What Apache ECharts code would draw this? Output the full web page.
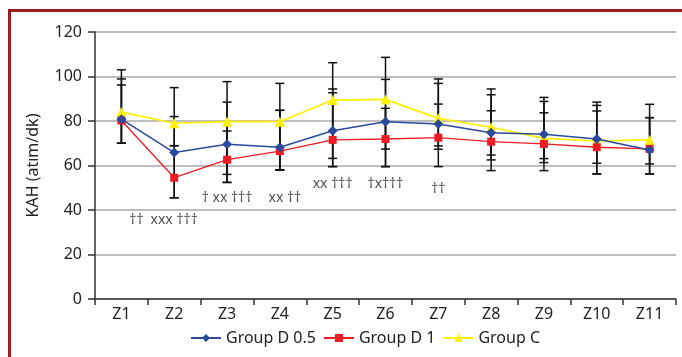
<!DOCTYPE html>
<html>
<head>
<meta charset="utf-8">
<script src="https://cdn.jsdelivr.net/npm/echarts@6/dist/echarts.min.js"></script>
<style>html,body{margin:0;padding:0;background:#fff;overflow:hidden;}#c{width:682px;height:357px;}</style>
</head>
<body>
<div id="c"></div>
<script>
const categories = ['Z1','Z2','Z3','Z4','Z5','Z6','Z7','Z8','Z9','Z10','Z11'];
const groupD05 = [80.8, 65.8, 69.5, 68.2, 75.6, 79.7, 78.7, 74.7, 74.0, 71.9, 67.0];
const groupD1  = [80.2, 54.5, 62.6, 66.5, 71.5, 71.9, 72.5, 70.7, 69.7, 68.2, 67.5];
const groupC   = [84.0, 79.0, 79.7, 79.7, 89.4, 89.7, 81.2, 77.2, 72.2, 71.0, 71.5];
// error bar ends (absolute values)
const groupCHigh   = [103.0, 95.0, 97.7, 96.9, 106.2, 108.6, 98.9, 94.4, 90.6, 88.5, 87.5];
const groupCLow    = [70.0, 68.9, 56.0, 58.0, 63.2, 67.4, 68.8, 57.7, 57.7, 61.0, 60.7];
const groupD05High = [98.9, 82.0, 88.5, 84.8, 94.4, 98.7, 96.9, 91.8, 88.8, 87.0, 81.5];
const groupD05Low  = [70.0, 45.5, 52.4, 58.0, 59.5, 59.5, 59.5, 62.5, 61.3, 56.2, 56.2];
const groupD1High  = [96.2, 68.9, 75.5, 84.8, 92.7, 85.7, 87.6, 84.6, 83.7, 84.5, 81.5];
const groupD1Low   = [70.0, 45.5, 52.4, 58.0, 59.5, 59.5, 67.3, 64.7, 63.1, 56.2, 56.2];
// significance annotations
const annoText = ['††', 'xxx †††', '† xx †††', 'xx ††', 'xx †††', '†x†††', '††', '', '', '', ''];
const annoY    = [35.5, 35.5, 45.4, 45.4, 51.7, 51.7, 49.5, null, null, null, null];
const annoDx   = [15, 0, 0, 5, 0, 0, 0, 0, 0, 0, 0];
const yTicks = [0, 20, 40, 60, 80, 100, 120];

const FONT = 'Noto Sans';
const errData = [];
[[groupCLow, groupCHigh], [groupD05Low, groupD05High], [groupD1Low, groupD1High]].forEach(function (p) {
  for (let i = 0; i < categories.length; i++) errData.push([i, p[0][i], p[1][i]]);
});
const annoData = [];
for (let i = 0; i < categories.length; i++) {
  if (annoY[i] != null) annoData.push({ value: [i, annoY[i]], label: { formatter: annoText[i], offset: [annoDx[i], 0] } });
}

const chart = echarts.init(document.getElementById('c'), null, { renderer: 'canvas' });
chart.setOption({
  animation: false,
  backgroundColor: '#ffffff',
  textStyle: { fontFamily: FONT },
  grid: { left: 95, right: 6, top: 32, bottom: 58 },
  graphic: [
    { type: 'line', silent: true, z: 100,
      shape: { x1: 9.5, y1: 9, x2: 9.5, y2: 357 },
      style: { stroke: '#9e1b22', lineWidth: 3 } },
    { type: 'line', silent: true, z: 100,
      shape: { x1: 8, y1: 10.5, x2: 682, y2: 10.5 },
      style: { stroke: '#9e1b22', lineWidth: 3 } }
  ],
  legend: {
    bottom: 6, left: 185,
    itemWidth: 30, itemHeight: 10, itemGap: 7,
    textStyle: { fontFamily: FONT, fontSize: 16, color: '#222' },
    data: ['Group D 0.5', 'Group D 1', 'Group C']
  },
  xAxis: {
    type: 'category', data: categories, boundaryGap: true,
    axisLine: { lineStyle: { color: '#333', width: 1.5 } },
    axisTick: { show: true, length: 6, lineStyle: { color: '#333', width: 1.5 } },
    axisLabel: { fontFamily: FONT, fontSize: 16, color: '#222', margin: 7 },
    splitLine: { show: false }
  },
  yAxis: {
    type: 'value', min: 0, max: 120, interval: 20,
    name: 'KAH (atım/dk)', nameLocation: 'middle', nameGap: 54,
    nameTextStyle: { fontFamily: FONT, fontSize: 16, color: '#222' },
    axisLine: { show: true, lineStyle: { color: '#333', width: 1.5 } },
    axisTick: { show: true, length: 7, lineStyle: { color: '#333', width: 1.5 } },
    axisLabel: { fontFamily: FONT, fontSize: 16, color: '#222', margin: 13,
      formatter: function (v) { return yTicks.indexOf(v) >= 0 ? String(v) : ''; } },
    splitLine: { show: true, lineStyle: { color: '#a8a8a8', width: 1.5 } }
  },
  series: [
    {
      type: 'custom', name: 'err', z: 1, silent: true,
      data: errData,
      renderItem: function (params, api) {
        const x = api.value(0);
        const lo = api.coord([x, api.value(1)]);
        const hi = api.coord([x, api.value(2)]);
        const w = 4.5;
        const st = { stroke: '#111', lineWidth: 1.5 };
        return { type: 'group', children: [
          { type: 'line', shape: { x1: lo[0], y1: lo[1], x2: hi[0], y2: hi[1] }, style: st },
          { type: 'line', shape: { x1: lo[0] - w, y1: lo[1], x2: lo[0] + w, y2: lo[1] }, style: st },
          { type: 'line', shape: { x1: hi[0] - w, y1: hi[1], x2: hi[0] + w, y2: hi[1] }, style: st }
        ] };
      }
    },
    {
      name: 'Group C', type: 'line', data: groupC, z: 3,
      symbol: 'triangle', symbolSize: 10,
      itemStyle: { color: '#fff000' }, lineStyle: { color: '#fff000', width: 1.7 }
    },
    {
      name: 'Group D 1', type: 'line', data: groupD1, z: 4,
      symbol: 'rect', symbolSize: 8,
      itemStyle: { color: '#ed1c24' }, lineStyle: { color: '#ed1c24', width: 1.3 }
    },
    {
      name: 'Group D 0.5', type: 'line', data: groupD05, z: 5,
      symbol: 'diamond', symbolSize: 10,
      itemStyle: { color: '#2b4a9b' }, lineStyle: { color: '#2b4a9b', width: 1.5 }
    },
    {
      type: 'scatter', name: 'anno', z: 6, silent: true,
      symbolSize: 0,
      data: annoData,
      label: { show: true, position: 'inside', fontFamily: FONT, fontSize: 14, color: '#222' }
    }
  ]
});
</script>
</body>
</html>
